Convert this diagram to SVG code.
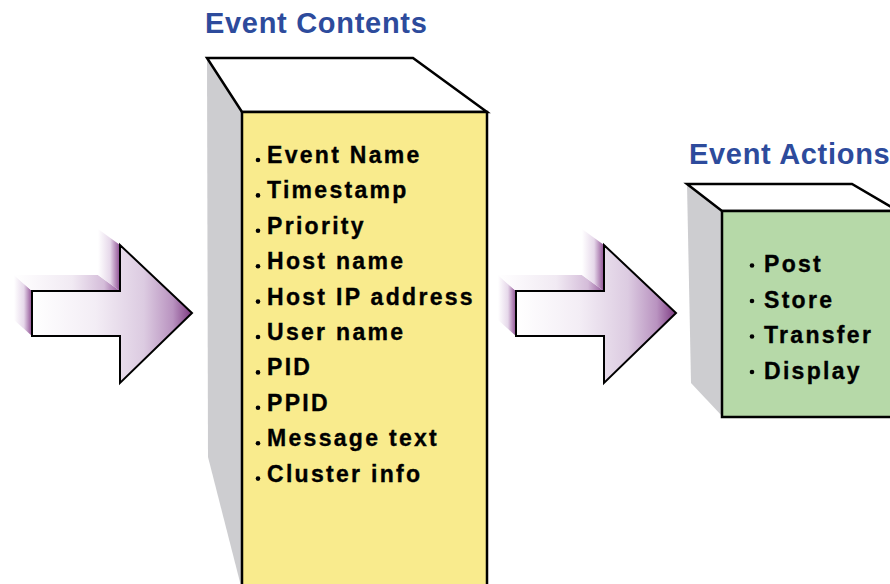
<svg xmlns="http://www.w3.org/2000/svg" width="890" height="584" viewBox="0 0 890 584">
  <defs>
    <!-- front face of the block arrows: white to plum -->
    <linearGradient id="arrowFront" x1="0" y1="0" x2="1" y2="0">
      <stop offset="0" stop-color="#ffffff"/>
      <stop offset="0.4" stop-color="#f3edf5"/>
      <stop offset="0.7" stop-color="#dccbe1"/>
      <stop offset="0.88" stop-color="#b993c0"/>
      <stop offset="1" stop-color="#7d3a82"/>
    </linearGradient>
    <!-- extruded side faces fade back to white -->
    <linearGradient id="arrowSide" x1="0" y1="0" x2="1" y2="0">
      <stop offset="0" stop-color="#ffffff"/>
      <stop offset="0.55" stop-color="#e6d8ea"/>
      <stop offset="1" stop-color="#8e4e93"/>
    </linearGradient>
    <linearGradient id="arrowTop" x1="0" y1="0" x2="1" y2="0">
      <stop offset="0" stop-color="#ffffff"/>
      <stop offset="0.55" stop-color="#f1eaf3"/>
      <stop offset="0.85" stop-color="#d4bcd9"/>
      <stop offset="1" stop-color="#93569a"/>
    </linearGradient>
  </defs>
  <style>
    .title { font-family: "Liberation Sans", Arial, Helvetica, sans-serif; font-weight: bold; font-size: 29px; fill: #2d4b9c; letter-spacing: 0.7px; }
    .item { font-family: "Liberation Sans", Arial, Helvetica, sans-serif; font-weight: bold; font-size: 23px; fill: #000000; stroke: #000000; stroke-width: 0.35px; letter-spacing: 2.3px; }
    .edge { stroke: #000000; stroke-width: 2.5; stroke-linejoin: miter; }
    .side { fill: #cdcdd0; stroke: none; }
    .lid { fill: #ffffff; }
    .arrowEdge { fill: url(#arrowFront); stroke: #000000; stroke-width: 2; stroke-linejoin: miter; }
    .bullet { fill: #000000; }
  </style>

  <rect width="890" height="584" fill="#ffffff"/>

  <!-- Event Contents column -->
  <g id="title-contents">
    <text class="title" x="205" y="33">Event Contents</text>
  </g>
  <g id="box-contents">
    <polygon class="side" points="207,58 242,112 242,590 208,457"/>
    <polygon class="lid edge" points="207,58 413,58 487,112 242,112"/>
    <rect class="edge" x="242" y="112" width="245" height="490" fill="#f9eb8d"/>
    <g>
      <circle class="bullet" cx="258" cy="160" r="2.3"/>
      <text class="item" x="267" y="163">Event Name</text>
      <circle class="bullet" cx="258" cy="195.4" r="2.3"/>
      <text class="item" x="267" y="198.4">Timestamp</text>
      <circle class="bullet" cx="258" cy="230.8" r="2.3"/>
      <text class="item" x="267" y="233.8">Priority</text>
      <circle class="bullet" cx="258" cy="266.2" r="2.3"/>
      <text class="item" x="267" y="269.2">Host name</text>
      <circle class="bullet" cx="258" cy="301.6" r="2.3"/>
      <text class="item" x="267" y="304.6">Host IP address</text>
      <circle class="bullet" cx="258" cy="337" r="2.3"/>
      <text class="item" x="267" y="340">User name</text>
      <circle class="bullet" cx="258" cy="372.4" r="2.3"/>
      <text class="item" x="267" y="375.4">PID</text>
      <circle class="bullet" cx="258" cy="407.8" r="2.3"/>
      <text class="item" x="267" y="410.8">PPID</text>
      <circle class="bullet" cx="258" cy="443.2" r="2.3"/>
      <text class="item" x="267" y="446.2">Message text</text>
      <circle class="bullet" cx="258" cy="478.6" r="2.3"/>
      <text class="item" x="267" y="481.6">Cluster info</text>
    </g>
  </g>

  <!-- Event Actions column -->
  <g id="title-actions">
    <text class="title" x="689" y="164">Event Actions</text>
  </g>
  <g id="box-actions">
    <polygon class="side" points="687,184 722,211 722,416 691,383"/>
    <polygon class="lid edge" points="687,184 852,184 898,211 722,211"/>
    <rect class="edge" x="722" y="211" width="190" height="206" fill="#b6d9a8"/>
    <g>
      <circle class="bullet" cx="752" cy="265.5" r="2.3"/>
      <text class="item" x="764" y="272.3">Post</text>
      <circle class="bullet" cx="752" cy="301" r="2.3"/>
      <text class="item" x="764" y="307.8">Store</text>
      <circle class="bullet" cx="752" cy="336.5" r="2.3"/>
      <text class="item" x="764" y="343.3">Transfer</text>
      <circle class="bullet" cx="752" cy="372" r="2.3"/>
      <text class="item" x="764" y="378.8">Display</text>
    </g>
  </g>

  <!-- Flow arrows between the stages -->
  <g id="connectors">
    <g id="arrow-in">
      <polygon points="32,291 32,336 14,320 14,275" fill="url(#arrowSide)"/>
      <polygon points="32,291 120,291 98,275 14,275" fill="url(#arrowTop)"/>
      <polygon points="120,245 120,291 98,275 98,229" fill="url(#arrowSide)"/>
      <polygon class="arrowEdge" points="32,291 120,291 120,245 192,313 120,383 120,336 32,336"/>
    </g>
    <g id="arrow-mid">
      <polygon points="516,291 516,336 498,320 498,275" fill="url(#arrowSide)"/>
      <polygon points="516,291 604,291 582,275 498,275" fill="url(#arrowTop)"/>
      <polygon points="604,245 604,291 582,275 582,229" fill="url(#arrowSide)"/>
      <polygon class="arrowEdge" points="516,291 604,291 604,245 676,313 604,383 604,336 516,336"/>
    </g>
  </g>
</svg>
